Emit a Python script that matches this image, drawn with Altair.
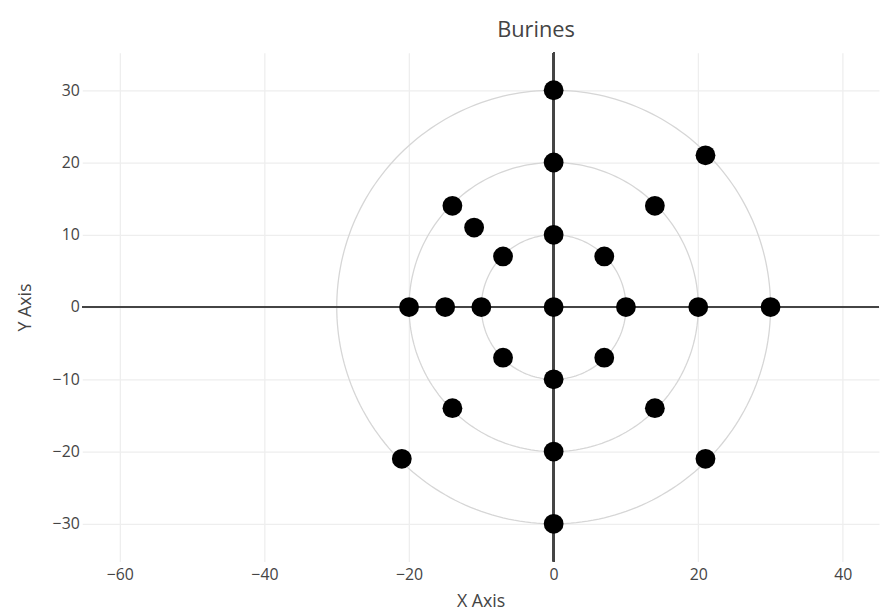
import altair as alt
import pandas as pd
import numpy as np

# Scatter points
xs = [0, 0, 0, 0, 0, 0, 0, 21, 14, 7, -14, -11, -7, -20, -15, -10, 10, 20, 30, -7, 7, -14, 14, -21, 21]
ys = [30, 20, 10, 0, -10, -20, -30, 21, 14, 7, 14, 11, 7, 0, 0, 0, 0, 0, 0, -7, -7, -14, -14, -21, -21]

# Reference rings
ring_radii = [10, 20, 30]

x_ticks = [-60, -40, -20, 0, 20, 40]
y_ticks = [-30, -20, -10, 0, 10, 20, 30]
x_domain = [-65.2, 45]
y_domain = [-35.2, 35.2]

FONT = "Open Sans"
TXT = "#444444"

pts = pd.DataFrame({"x": xs, "y": ys})

# ring geometry (reference circles drawn through the data scales)
angles = np.linspace(0, 2 * np.pi, 241)
rows = []
for r in ring_radii:
    for i, a in enumerate(angles):
        rows.append({"r": r, "i": i, "x": r * np.cos(a), "y": r * np.sin(a)})
rings = pd.DataFrame(rows)

xscale = alt.Scale(domain=x_domain, nice=False, zero=False)
yscale = alt.Scale(domain=y_domain, nice=False, zero=False)

xaxis = alt.Axis(values=x_ticks, title="X Axis", grid=True, gridColor="#eeeeee", gridWidth=1.3,
                 domain=False, ticks=False, labelPadding=5, titlePadding=11,
                 labelFont=FONT, labelFontSize=16, labelColor=TXT,
                 titleFont=FONT, titleFontSize=18, titleFontWeight="normal", titleColor=TXT)
yaxis = alt.Axis(values=y_ticks, title="Y Axis", grid=True, gridColor="#eeeeee", gridWidth=1.3,
                 domain=False, ticks=False, labelPadding=3, titlePadding=18,
                 labelFont=FONT, labelFontSize=16, labelColor=TXT,
                 titleFont=FONT, titleFontSize=18, titleFontWeight="normal", titleColor=TXT)

ring_layer = alt.Chart(rings).mark_line(color="#d6d6d6", strokeWidth=1.3).encode(
    x=alt.X("x:Q", scale=xscale, axis=xaxis),
    y=alt.Y("y:Q", scale=yscale, axis=yaxis),
    detail="r:N",
    order="i:Q",
)

vzero = alt.Chart(pts).mark_rule(color="#444444", strokeWidth=1.5).encode(x=alt.datum(0))
hzero = alt.Chart(pts).mark_rule(color="#444444", strokeWidth=1.5).encode(y=alt.datum(0))

dots = alt.Chart(pts).mark_circle(color="#000000", opacity=1, size=400).encode(
    x=alt.X("x:Q", scale=xscale),
    y=alt.Y("y:Q", scale=yscale),
)

chart = alt.layer(ring_layer, vzero, hzero, dots).properties(
    width=805,
    height=514,
    padding={"left": 8, "top": 8, "right": 0, "bottom": 0},
    title=alt.Title("Burines", font=FONT, fontSize=22, fontWeight="normal",
                    color=TXT, dx=56, offset=10),
).configure_view(stroke=None)

chart.save("out.html", embed_options={"renderer": "svg", "actions": False})
